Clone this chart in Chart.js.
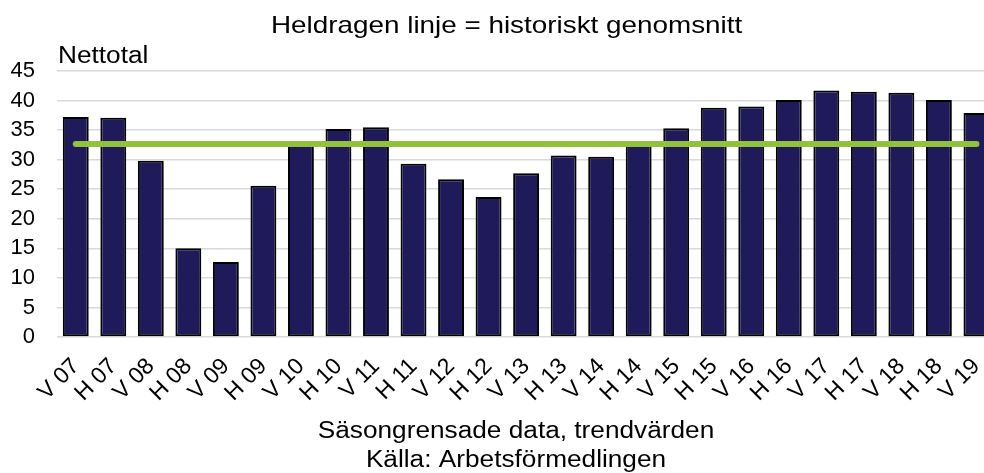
<!DOCTYPE html>
<html><head><meta charset="utf-8">
<script src="https://cdn.jsdelivr.net/npm/chart.js@4"></script>
<style>html,body{margin:0;padding:0;overflow:hidden;background:#fff}#wrap{position:relative;width:1012px;height:473px}</style>
</head><body><div id="wrap"><canvas id="c" width="1012" height="473"></canvas></div>
<script>
const categories = ['V 07','H 07','V 08','H 08','V 09','H 09','V 10','H 10','V 11','H 11','V 12','H 12','V 13','H 13','V 14','H 14','V 15','H 15','V 16','H 16','V 17','H 17','V 18','H 18','V 19'];
const nettotal = [37.2,37.1,29.8,15.0,12.7,25.6,32.5,35.2,35.5,29.3,26.7,23.7,27.7,30.7,30.5,33.1,35.3,38.8,39.0,40.1,41.7,41.5,41.3,40.1,37.9];
const historicalAverage = [32.65,32.65,32.65,32.65,32.65,32.65,32.65,32.65,32.65,32.65,32.65,32.65,32.65,32.65,32.65,32.65,32.65,32.65,32.65,32.65,32.65,32.65,32.65,32.65,32.65];
const yTicks = [0,5,10,15,20,25,30,35,40,45];
const titleText = 'Heldragen linje = historiskt genomsnitt';
const unitText = 'Nettotal';
const noteLines = ['Säsongrensade data, trendvärden','Källa: Arbetsförmedlingen'];

const FONT = "'Liberation Sans', Arial, sans-serif";

const textPlugin = {
  id: 'texts',
  afterDraw(chart) {
    const ctx = chart.ctx;
    const draw = (txt, x, y, size, align, sx) => {
      ctx.save();
      ctx.font = size + 'px ' + FONT;
      ctx.fillStyle = '#000';
      ctx.textBaseline = 'alphabetic';
      ctx.textAlign = align;
      ctx.translate(x, y);
      ctx.scale(sx, 1);
      ctx.fillText(txt, 0, 0);
      ctx.restore();
    };
    draw(titleText, 271, 33, 24, 'left', 1.16);
    draw(unitText, 58, 63, 23, 'left', 1.14);
    draw(noteLines[0], 516, 438, 23, 'center', 1.14);
    draw(noteLines[1], 516, 467, 23, 'center', 1.14);
  }
};

new Chart(document.getElementById('c'), {
  data: {
    labels: categories,
    datasets: [
      {
        type: 'line', data: historicalAverage, borderColor: '#92c13c', borderWidth: 6,
        pointRadius: 0, borderCapStyle: 'round', tension: 0, order: 1, fill: false
      },
      {
        type: 'bar', data: nettotal, backgroundColor: '#1f1b5a', borderColor: '#000',
        borderWidth: 2, borderSkipped: false, barPercentage: 0.69, categoryPercentage: 1.0, order: 2
      }
    ]
  },
  options: {
    responsive: false, animation: false, devicePixelRatio: 1,
    layout: { padding: { top: 71, left: 0, right: 3, bottom: 0 } },
    plugins: { legend: { display: false }, title: { display: false }, tooltip: { enabled: false } },
    scales: {
      x: {
        offset: true,
        grid: { display: false, drawTicks: false },
        border: { display: false },
        ticks: { autoSkip: false, maxRotation: 45, minRotation: 45, padding: 16, color: '#000',
                 font: { family: FONT, size: 23 } },
        afterFit: s => { s.height = 136; }
      },
      y: {
        min: 0, max: 45,
        afterBuildTicks: s => { s.ticks = yTicks.map(v => ({ value: v })); },
        ticks: { padding: 22, color: '#000', font: { family: FONT, size: 22 } },
        grid: { color: '#d9d9d9', lineWidth: 1.5, drawTicks: false },
        border: { display: false },
        afterFit: s => { s.width = 57; }
      }
    }
  },
  plugins: [textPlugin]
});
</script></body></html>
